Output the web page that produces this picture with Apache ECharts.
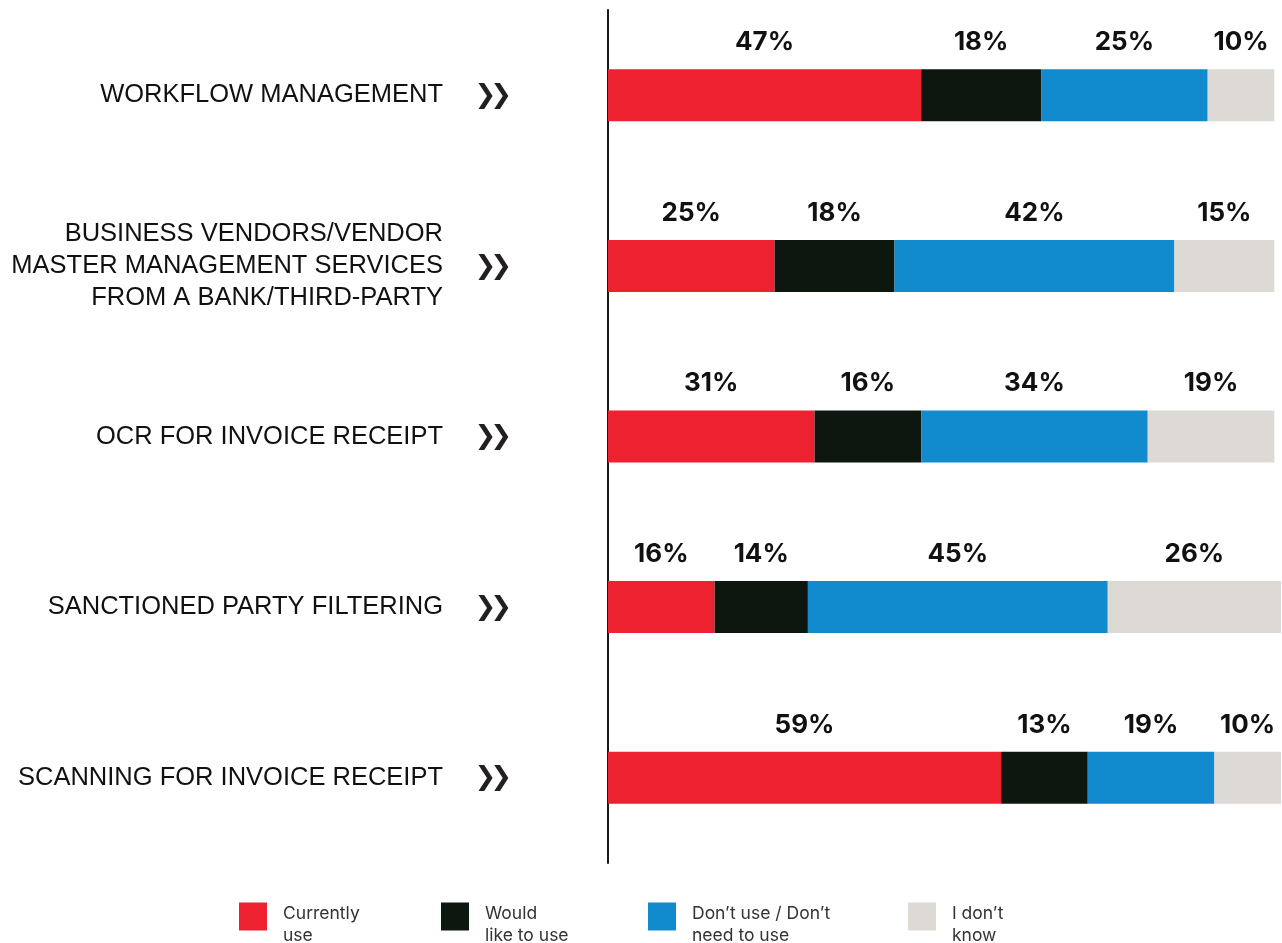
<!DOCTYPE html>
<html><head><meta charset="utf-8">
<script src="https://cdn.jsdelivr.net/npm/echarts@6/dist/echarts.min.js"></script>
<style>html,body{margin:0;padding:0;background:#fff}#c{width:1282px;height:943px}</style>
</head><body><div id="c"></div>
<script>
const categories = [
  'WORKFLOW MANAGEMENT',
  'BUSINESS VENDORS/VENDOR\nMASTER MANAGEMENT SERVICES\nFROM A BANK/THIRD-PARTY',
  'OCR FOR INVOICE RECEIPT',
  'SANCTIONED PARTY FILTERING',
  'SCANNING FOR INVOICE RECEIPT'
];
const seriesNames = ['Currently\nuse', 'Would\nlike to use', 'Don\u2019t use / Don\u2019t\nneed to use', 'I don\u2019t\nknow'];
const currentlyUse = [47, 25, 31, 16, 59];
const wouldLike = [18, 18, 16, 14, 13];
const dontUse = [25, 42, 34, 45, 19];
const dontKnow = [10, 15, 19, 26, 10];
const colors = ['#EE2130', '#0D1710', '#118ACE', '#DDDAD5'];

const chart = echarts.init(document.getElementById('c'));
const values = [currentlyUse, wouldLike, dontUse, dontKnow];
const legendLeft = [239, 441, 648, 908];
const opt = {
  animation: false,
  grid: { left: 608, top: 10, width: 673, height: 853, containLabel: false },
  xAxis: { type: 'value', min: 0, max: 101, show: false },
  yAxis: [
    { type: 'category', data: categories, inverse: true,
      axisLine: { show: true, lineStyle: { color: '#1a1a1a', width: 2 } },
      axisTick: { show: false },
      axisLabel: { margin: 165, fontFamily: 'Liberation Sans', fontSize: 25.5, color: '#111', lineHeight: 32, align: 'right' } },
    { type: 'category', data: categories, inverse: true, position: 'left',
      axisLine: { show: false }, axisTick: { show: false },
      axisLabel: { margin: 99, formatter: () => '{c|\u276F}{c|\u276F}',
        rich: { c: { fontFamily: 'DejaVu Sans', fontWeight: 'bold', fontSize: 26, color: '#231F20', padding: [2, -3, 0, -3] } } } }
  ],
  legend: seriesNames.map((n, i) => ({
    data: [n], left: legendLeft[i], top: 894, itemWidth: 28, itemHeight: 28, itemGap: 0, padding: 0,
    icon: 'rect', selectedMode: false,
    formatter: name => '{s| }\n' + name.split('\n').map(l => '{t|' + l + '}').join('\n'),
    textStyle: { padding: [0, 0, 0, 11],
      rich: { s: { fontSize: 1, lineHeight: 16 },
              t: { fontFamily: 'Inter', fontSize: 17.5, color: '#333', lineHeight: 22 } } }
  })),
  series: seriesNames.map((n, i) => ({
    name: n, type: 'bar', stack: 'a', data: values[i], barWidth: 52,
    itemStyle: { color: colors[i] },
    label: { show: true, position: 'top', distance: 14, formatter: '{c}%',
      fontFamily: 'Inter', fontWeight: 'bold', fontSize: 26, color: '#111' }
  }))
};
chart.setOption(opt);
</script></body></html>
